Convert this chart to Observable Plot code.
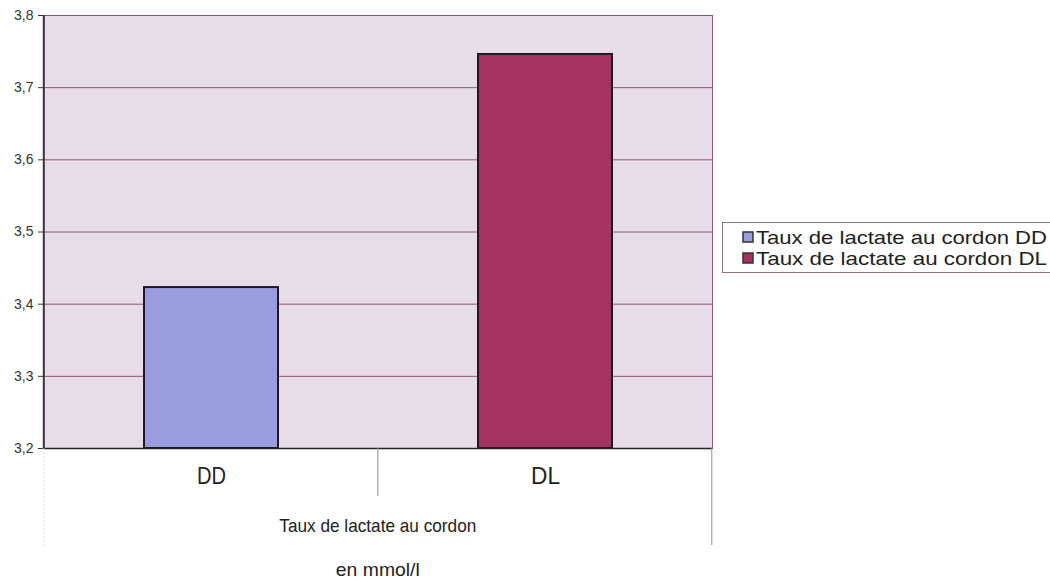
<!DOCTYPE html>
<html>
<head>
<meta charset="utf-8">
<script src="https://cdn.jsdelivr.net/npm/d3@7"></script>
<script src="https://cdn.jsdelivr.net/npm/@observablehq/plot@0.6"></script>
<style>
  html, body { margin: 0; padding: 0; background: #fff; }
  #wrap { position: relative; width: 1050px; height: 582px; font-family: "Liberation Sans", Arial, sans-serif; }
</style>
</head>
<body>
<div id="wrap"></div>
<script>
const categories = ["DD", "DL"];
const values = [3.423, 3.746];
const seriesNames = ["Taux de lactate au cordon DD", "Taux de lactate au cordon DL"];
const colors = ["#9a9ce0", "#a3335f"];
const yTicks = [3.2, 3.3, 3.4, 3.5, 3.6, 3.7, 3.8];
const xTitle = ["Taux de lactate au cordon", "en mmol/l"];

const data = categories.map((c, i) => ({cat: c, value: values[i], color: colors[i]}));
const base = yTicks[0];
const gridColor = "#8e5574";

const chart = Plot.plot({
  width: 1050,
  height: 582,
  marginLeft: 43,
  marginRight: 338,
  marginTop: 15,
  marginBottom: 134,
  style: {fontFamily: "Liberation Sans, Arial, sans-serif", background: "transparent", color: "#222"},
  x: {domain: categories, paddingInner: 0.6, paddingOuter: 0.3, label: null, axis: null},
  y: {domain: [yTicks[0], yTicks[yTicks.length - 1]], ticks: yTicks, label: null, axis: null},
  marks: [
    Plot.frame({fill: "#e7dde8", stroke: null}),
    Plot.ruleY(yTicks, {stroke: gridColor, strokeWidth: 1}),
    Plot.frame({stroke: gridColor, strokeWidth: 1}),
    Plot.barY(data, {x: "cat", y1: base, y2: "value", fill: "color", stroke: "#1e1a22", strokeWidth: 2}),
    Plot.ruleY([base], {stroke: "#2a2228", strokeWidth: 1.5}),
    Plot.axisY({ticks: yTicks, tickSize: 5, tickPadding: 5, tickFormat: d => d.toFixed(1).replace(".", ","),
      fontSize: 14, stroke: "#333", fill: "#333"}),
    Plot.axisX({tickSize: 0, tickPadding: 19, fontSize: 23, fill: "#222"})
  ]
});

document.getElementById("wrap").appendChild(chart);

const xs = chart.scale("x");
const ys = chart.scale("y");
const step = xs.step;
const svg = d3.select(chart);
const yBase = ys.apply(base);
const yTop = ys.apply(yTicks[yTicks.length - 1]);

// narrow the category labels to the reference's proportions
svg.selectAll('g[aria-label="x-axis tick label"] text')
  .attr("textLength", 29).attr("lengthAdjust", "spacingAndGlyphs");

// left axis line
const x0 = xs.apply(categories[0]) - step * xs.paddingOuter;
svg.append("line").attr("x1", x0).attr("x2", x0).attr("y1", yTop).attr("y2", yBase)
  .attr("stroke", "#3a3038").attr("stroke-width", 2);

// separators between categories below the plot area
const bounds = categories.map((c, i) => x0 + i * step).concat([x0 + categories.length * step]);
const lens = [97, 48, 97];
bounds.forEach((bx, i) => {
  svg.append("line").attr("x1", bx).attr("x2", bx).attr("y1", yBase).attr("y2", yBase + lens[i])
    .attr("stroke", i === 0 ? "#e0d4de" : "#a7819a").attr("stroke-width", 1)
    .attr("stroke-dasharray", i === 0 ? "2,2" : null);
});

// axis title
const cx = (bounds[0] + bounds[bounds.length - 1]) / 2;
const titleLens = [197, 84];
xTitle.forEach((t, i) => {
  svg.append("text").attr("x", cx).attr("y", 532 + i * 44).attr("text-anchor", "middle")
    .attr("font-size", 19).attr("fill", "#222").attr("font-family", "Liberation Sans, Arial, sans-serif")
    .attr("textLength", titleLens[i]).attr("lengthAdjust", "spacingAndGlyphs").text(t);
});

// legend
const lg = svg.append("g").attr("text-anchor", "start");
lg.append("rect").attr("x", 722.5).attr("y", 222.5).attr("width", 340).attr("height", 50)
  .attr("fill", "white").attr("stroke", "#8a7585").attr("stroke-width", 1);
seriesNames.forEach((n, i) => {
  const cy = 237 + i * 21;
  lg.append("rect").attr("x", 743).attr("y", cy - 5).attr("width", 10).attr("height", 10)
    .attr("fill", colors[i]).attr("stroke", "#333").attr("stroke-width", 1.5);
  lg.append("text").attr("x", 756).attr("y", cy + 7).attr("font-size", 18.5).attr("text-anchor", "start")
    .attr("font-family", "Liberation Sans, Arial, sans-serif").attr("fill", "#222")
    .attr("textLength", 291).attr("lengthAdjust", "spacingAndGlyphs").text(n);
});
</script>
</body>
</html>
